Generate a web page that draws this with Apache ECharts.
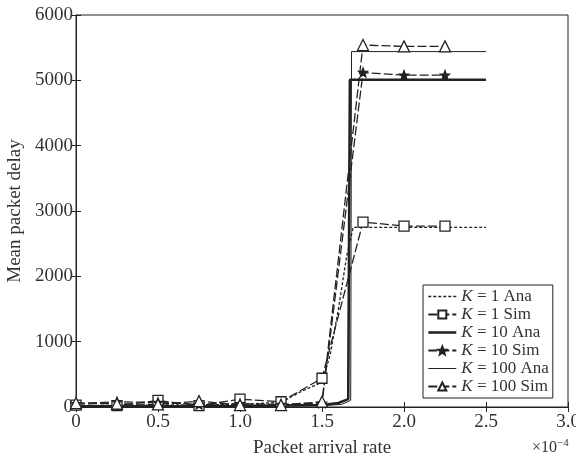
<!DOCTYPE html>
<html>
<head>
<meta charset="utf-8">
<script src="https://cdn.jsdelivr.net/npm/echarts@6/dist/echarts.min.js"></script>
<style>
  html, body { margin: 0; padding: 0; background: #fff; }
  #chart { width: 576px; height: 458px; }
</style>
</head>
<body>
<div id="chart"></div>
<script>
// packet arrival rate in units of 1e-4
var rateSim = [0, 0.25, 0.5, 0.75, 1.0, 1.25, 1.5, 1.75, 2.0, 2.25];
var delayK1Sim = [30, 20, 100, 20, 120, 80, 440, 2830, 2770, 2770];
var delayK10Sim = [50, 80, 70, 40, 50, 40, 60, 5120, 5080, 5080];
var delayK100Sim = [60, 50, 40, 90, 30, 30, 80, 5540, 5520, 5520];

var rateK1Ana = [0, 0.5, 1.0, 1.25, 1.375, 1.5, 1.55, 1.6, 1.65, 1.69, 2.5];
var delayK1Ana = [20, 30, 40, 70, 240, 380, 800, 1500, 2300, 2750, 2750];
var rateK10Ana = [0, 0.5, 1.0, 1.5, 1.6, 1.66, 1.67, 2.5];
var delayK10Ana = [10, 10, 15, 30, 60, 120, 5010, 5010];
var rateK100Ana = [0, 0.5, 1.0, 1.5, 1.62, 1.675, 1.68, 2.5];
var delayK100Ana = [5, 5, 10, 20, 40, 100, 5440, 5440];

var xTicks = [0, 0.5, 1.0, 1.5, 2.0, 2.5, 3.0];
var yTicks = [0, 1000, 2000, 3000, 4000, 5000, 6000];

var ink = '#222';
var txt = '#333';
var serif = '"Liberation Serif", "DejaVu Serif", serif';
var star = 'path://M0,-10 L2.6,-3.4 L9.5,-3.1 L4.1,1.3 L5.9,8.1 L0,4.2 L-5.9,8.1 L-4.1,1.3 L-9.5,-3.1 L-2.6,-3.4 Z';

function pairs(xs, ys) {
  return xs.map(function (x, i) { return [x, ys[i]]; });
}

var chart = echarts.init(document.getElementById('chart'));

function anaSeries(name, xs, ys, width, type) {
  return {
    name: name, type: 'line', data: pairs(xs, ys),
    showSymbol: false, symbol: 'none', animation: false,
    lineStyle: { color: ink, width: width, type: type },
    itemStyle: { color: ink }, z: 3
  };
}
function simSeries(name, ys, symbol, size, fill) {
  return {
    name: name, type: 'line', data: pairs(rateSim, ys),
    symbol: symbol, symbolSize: size, animation: false,
    lineStyle: { color: ink, width: 1.3, type: [9, 3] },
    itemStyle: { color: fill, borderColor: ink, borderWidth: 1.3 }, z: 4
  };
}
function legendItem(name, anaWidth) {
  if (!anaWidth) return { name: name };
  return { name: name, itemStyle: { opacity: 0 }, lineStyle: { width: anaWidth } };
}

chart.setOption({
  backgroundColor: '#fff',
  grid: {
    left: 76, right: 8, top: 15, bottom: 51, containLabel: false, outerBoundsMode: 'none',
    show: true, borderColor: ink, borderWidth: 1
  },
  xAxis: [{
    type: 'value', min: 0, max: 3, interval: 0.5,
    name: 'Packet arrival rate', nameLocation: 'middle', nameGap: 32,
    nameTextStyle: { fontFamily: serif, fontSize: 19, color: txt },
    axisLine: { show: true, lineStyle: { color: ink } },
    axisTick: { inside: true, length: 5, lineStyle: { color: ink } },
    axisLabel: {
      fontFamily: serif, fontSize: 19, color: txt, margin: 6,
      formatter: function (v) { return v === xTicks[0] ? '0' : v.toFixed(1); }
    },
    splitLine: { show: false }
  }, {
    type: 'value', position: 'top', min: 0, max: 3, interval: 0.5,
    axisLine: { show: true, lineStyle: { color: ink } },
    axisTick: { inside: true, length: 5, lineStyle: { color: ink } },
    axisLabel: { show: false }, splitLine: { show: false }
  }],
  yAxis: [{
    type: 'value', min: yTicks[0], max: yTicks[yTicks.length - 1], interval: 1000,
    name: 'Mean packet delay', nameLocation: 'middle', nameGap: 45,
    nameTextStyle: { fontFamily: serif, fontSize: 19, color: txt },
    axisLine: { show: true, lineStyle: { color: ink } },
    axisTick: { inside: true, length: 5, lineStyle: { color: ink } },
    axisLabel: {
      fontFamily: serif, fontSize: 19, color: txt, margin: 3,
      formatter: function (v) { return String(v); }
    },
    splitLine: { show: false }
  }, {
    type: 'value', position: 'right', min: 0, max: 6000, interval: 1000,
    axisLine: { show: true, lineStyle: { color: ink } },
    axisTick: { inside: true, length: 5, lineStyle: { color: ink } },
    axisLabel: { show: false }, splitLine: { show: false }
  }],
  legend: {
    orient: 'vertical', left: 423, top: 285,
    padding: [3, 4, 3, 4], itemGap: 1,
    itemWidth: 28, itemHeight: 10,
    backgroundColor: '#fff', borderColor: ink, borderWidth: 1,
    data: [
      legendItem('K = 1 Ana', 1.3), legendItem('K = 1 Sim'),
      legendItem('K = 10 Ana', 2.6), legendItem('K = 10 Sim'),
      legendItem('K = 100 Ana', 1), legendItem('K = 100 Sim')
    ],
    formatter: function (name) { return '{i|K}' + name.slice(1); },
    textStyle: {
      fontFamily: serif, fontSize: 17, color: txt,
      rich: { i: { fontFamily: serif, fontSize: 17, fontStyle: 'italic', color: txt } }
    }
  },
  graphic: [{
    type: 'text', left: 532, top: 438,
    style: {
      text: '×10{s|−4}', fontFamily: serif, fontSize: 16, fill: txt,
      rich: { s: { fontFamily: serif, fontSize: 11, verticalAlign: 'top', padding: [0, 0, 8, 0], fill: txt } }
    }
  }],
  series: [
    anaSeries('K = 1 Ana', rateK1Ana, delayK1Ana, 1.3, [3, 2]),
    simSeries('K = 1 Sim', delayK1Sim, 'rect', 10, '#fff'),
    anaSeries('K = 10 Ana', rateK10Ana, delayK10Ana, 2.6, 'solid'),
    simSeries('K = 10 Sim', delayK10Sim, star, 9, ink),
    anaSeries('K = 100 Ana', rateK100Ana, delayK100Ana, 1, 'solid'),
    simSeries('K = 100 Sim', delayK100Sim, 'triangle', 11, '#fff')
  ]
});
</script>
</body>
</html>
